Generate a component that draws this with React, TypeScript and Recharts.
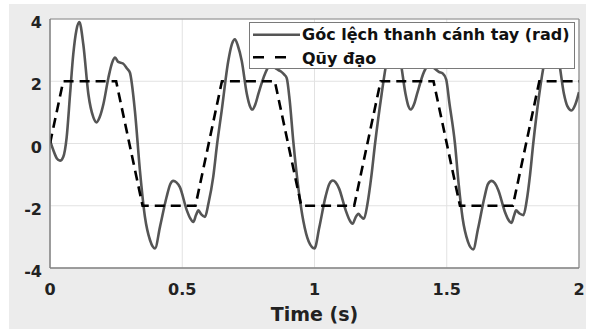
import React from "react";
import { LineChart, Line, XAxis, YAxis, CartesianGrid, Legend, ReferenceLine } from "recharts";

// Góc lệch thanh cánh tay (rad) — measured response
const timeS = [
  0.0, 0.012, 0.026, 0.038, 0.05, 0.063, 0.076, 0.088, 0.1, 0.111, 0.126, 0.145, 0.164, 0.176, 0.188, 0.202,
  0.221, 0.235, 0.246, 0.258, 0.276, 0.292, 0.302, 0.321, 0.34, 0.359, 0.378, 0.397, 0.416, 0.441, 0.455,
  0.466, 0.478, 0.491, 0.517, 0.53, 0.542, 0.552, 0.561, 0.572, 0.586, 0.599, 0.617, 0.632, 0.649, 0.674,
  0.688, 0.699, 0.71, 0.725, 0.744, 0.756, 0.765, 0.776, 0.788, 0.813, 0.835, 0.855, 0.872, 0.885, 0.895,
  0.906, 0.92, 0.94, 0.958, 0.978, 1.0, 1.018, 1.042, 1.056, 1.069, 1.08, 1.093, 1.118, 1.132, 1.144, 1.155,
  1.166, 1.176, 1.187, 1.2, 1.215, 1.229, 1.254, 1.273, 1.288, 1.3, 1.311, 1.325, 1.344, 1.355, 1.364, 1.376,
  1.388, 1.414, 1.435, 1.455, 1.47, 1.485, 1.498, 1.51, 1.531, 1.545, 1.56, 1.58, 1.6, 1.618, 1.642, 1.656,
  1.67, 1.682, 1.695, 1.72, 1.733, 1.745, 1.755, 1.762, 1.775, 1.79, 1.802, 1.815, 1.827, 1.85, 1.87, 1.886,
  1.898, 1.91, 1.924, 1.943, 1.956, 1.972, 1.986, 2.0,
];
const gocLech = [
  0.1, -0.2, -0.48, -0.55, -0.43, 0.2, 1.6, 2.87, 3.65, 3.9, 3.18, 1.59, 0.84, 0.68, 0.85, 1.27,
  2.12, 2.6, 2.76, 2.62, 2.57, 2.4, 2.28, 1.05, -0.87, -2.36, -3.1, -3.37, -2.67, -1.71, -1.3,
  -1.2, -1.25, -1.4, -2.14, -2.4, -2.52, -2.3, -2.15, -2.28, -2.36, -1.93, -1.08, 0.0, 1.05, 2.65,
  3.2, 3.35, 3.15, 2.65, 1.6, 1.2, 1.09, 1.25, 1.6, 2.24, 2.55, 2.4, 2.32, 2.22, 2.1,
  1.4, 0.05, -1.5, -2.5, -3.15, -3.37, -2.7, -1.7, -1.3, -1.19, -1.25, -1.45, -2.15, -2.45, -2.58, -2.38,
  -2.26, -2.35, -2.42, -1.95, -1.05, 0.0, 1.6, 2.65, 3.2, 3.35, 3.15, 2.65, 1.6, 1.2, 1.09, 1.25,
  1.6, 2.3, 2.55, 2.4, 2.3, 2.25, 2.05, 1.3, 0.0, -1.3, -2.4, -3.15, -3.4, -2.75, -1.75, -1.3,
  -1.2, -1.28, -1.5, -2.2, -2.45, -2.55, -2.3, -2.15, -2.25, -2.3, -1.85, -1.0, 0.0, 1.6, 2.65, 3.2,
  3.35, 3.15, 2.65, 1.6, 1.2, 1.06, 1.25, 1.65,
];

// Qũy đạo — reference trajectory
const trajT = [0, 0.05, 0.25, 0.35, 0.55, 0.65, 0.85, 0.95, 1.15, 1.25, 1.45, 1.55, 1.75, 1.85, 2.0];
const trajV = [0, 2, 2, -2, -2, 2, 2, -2, -2, 2, 2, -2, -2, 2, 2];

const xTicks = [0, 0.5, 1, 1.5, 2];
const yTicks = [-4, -2, 0, 2, 4];
const seriesNames = ["Góc lệch thanh cánh tay (rad)", "Qũy đạo"];
const xLabel = "Time (s)";

const solidData = timeS.map((t, i) => ({ t, v: gocLech[i] }));
const trajData = trajT.map((t, i) => ({ t, v: trajV[i] }));

const FONT = "'DejaVu Sans', 'Liberation Sans', sans-serif";

const XTick = (props: any) => {
  const { x, y, payload } = props;
  return (
    <text x={x} y={y + 27} textAnchor="middle" fontFamily={FONT} fontWeight="bold" fontSize={16} fill="#222">
      {String(payload.value)}
    </text>
  );
};

const YTick = (props: any) => {
  const { x, y, payload } = props;
  return (
    <text x={x} y={y + 9} textAnchor="end" fontFamily={FONT} fontWeight="bold" fontSize={16} fill="#222">
      {String(payload.value)}
    </text>
  );
};

const LegendBox = () => (
  <svg width={326} height={47} style={{ display: "block" }}>
    <rect x={0.5} y={0.5} width={325} height={46} fill="#fff" stroke="#7a7a7a" strokeWidth={1} />
    <line x1={4} x2={51} y1={12.7} y2={12.7} stroke="#555" strokeWidth={2.5} />
    <text x={53} y={18} fontFamily={FONT} fontWeight="bold" fontSize={16} fill="#111">
      {seriesNames[0]}
    </text>
    <line x1={4} x2={39} y1={35.3} y2={35.3} stroke="#000" strokeWidth={2.5} strokeDasharray="11 11" />
    <text x={53} y={42} fontFamily={FONT} fontWeight="bold" fontSize={16} fill="#111">
      {seriesNames[1]}
    </text>
  </svg>
);

export default function App() {
  return (
    <div style={{ position: "absolute", left: 0, top: 0, width: 596, height: 329, background: "#fff", overflow: "hidden" }}>
      <div style={{ position: "absolute", left: 9, top: 4, width: 577, height: 325, background: "#ececec" }} />
      <div style={{ position: "absolute", left: 0, top: 0 }}>
        <LineChart width={596} height={329} margin={{ top: 19, right: 17, bottom: 0, left: 0 }}>
          <CartesianGrid stroke="#e2e2e2" fill="#fff" />
          <XAxis
            dataKey="t"
            type="number"
            domain={[0, 2]}
            ticks={xTicks}
            height={61}
            tickSize={0}
            tickMargin={0}
            tickLine={false}
            axisLine={{ stroke: "#808080", strokeWidth: 1.5 }}
            tick={<XTick />}
            allowDataOverflow
            label={{
              value: xLabel,
              position: "insideBottom",
              offset: 8,
              style: { fontFamily: FONT, fontWeight: "bold", fontSize: 19, fill: "#222" },
            }}
          />
          <YAxis
            type="number"
            domain={[-4, 4]}
            ticks={yTicks}
            width={50}
            tickSize={0}
            tickMargin={8}
            tickLine={false}
            axisLine={{ stroke: "#808080", strokeWidth: 1.5 }}
            tick={<YTick />}
            allowDataOverflow
          />
          <ReferenceLine y={4} stroke="#8a8a8a" strokeWidth={1.2} />
          <ReferenceLine x={2} stroke="#8a8a8a" strokeWidth={1.2} />
          <Line
            data={solidData}
            dataKey="v"
            type="monotone"
            stroke="#555555"
            strokeWidth={2.6}
            dot={false}
            activeDot={false}
            isAnimationActive={false}
            name={seriesNames[0]}
          />
          <Line
            data={trajData}
            dataKey="v"
            type="linear"
            stroke="#000"
            strokeWidth={2.6}
            strokeDasharray="10 6"
            dot={false}
            activeDot={false}
            isAnimationActive={false}
            name={seriesNames[1]}
          />
          <Legend
            layout="vertical"
            align="center"
            verticalAlign="middle"
            content={() => <LegendBox />}
            wrapperStyle={{ left: 249, top: 22, width: 326, height: 47 }}
          />
        </LineChart>
      </div>
    </div>
  );
}
